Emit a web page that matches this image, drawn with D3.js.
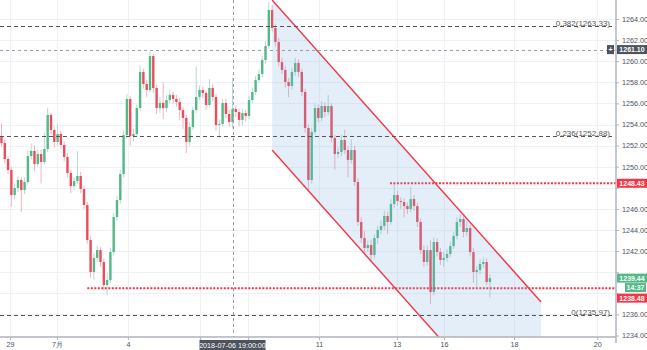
<!DOCTYPE html>
<html>
<head>
<meta charset="utf-8">
<script src="https://cdnjs.cloudflare.com/ajax/libs/d3/7.8.5/d3.min.js"></script>
<style>
    html, body { margin: 0; padding: 0; background: #fff; }
    svg { display: block; font-family: "Liberation Sans", Arial, sans-serif; }
</style>
</head>
<body>
<div id="chart"></div>
<script>
// Gold, 2h candles, 29 Jun - 17 Jul 2018
const opens = [
    1252.82, 1252.25, 1250.73, 1249.69, 1247.32, 1247.98, 1248.74, 1247.79, 1248.55, 1251.01,
    1251.49, 1250.26, 1251.20, 1250.45, 1251.68, 1254.90, 1253.48, 1252.34, 1253.10, 1252.06,
    1250.92, 1249.40, 1248.17, 1248.64, 1249.12, 1247.89, 1246.37, 1243.05, 1240.02, 1241.35,
    1242.10, 1240.97, 1238.79, 1239.26, 1241.91, 1245.23, 1246.84, 1249.31, 1253.00, 1256.42,
    1252.91, 1253.10, 1255.56, 1258.98, 1257.84, 1257.27, 1260.49, 1257.46, 1255.56, 1256.04,
    1255.56, 1256.32, 1256.80, 1256.42, 1256.13, 1255.37, 1254.62, 1252.34, 1253.76, 1255.37,
    1256.61, 1257.27, 1256.99, 1255.85, 1257.46, 1256.61, 1253.95, 1254.05, 1256.04, 1255.00,
    1254.24, 1255.47, 1255.18, 1254.43, 1255.09, 1254.81, 1256.32, 1257.08, 1258.22, 1258.79,
    1260.11, 1261.44, 1264.85, 1263.15, 1261.82, 1259.92, 1259.17, 1258.03, 1257.65, 1258.98,
    1259.83, 1258.98, 1257.08, 1253.67, 1248.74, 1253.29, 1255.56, 1254.62, 1255.75, 1255.18,
    1255.75, 1252.72, 1251.20, 1251.39, 1252.53, 1251.58, 1250.64, 1251.58, 1248.55, 1244.76,
    1243.24, 1242.29, 1242.58, 1241.63, 1243.24, 1244.00, 1244.38, 1245.33, 1244.76, 1246.46,
    1247.32, 1246.75, 1246.65, 1246.27, 1245.99, 1246.94, 1246.27, 1244.76, 1242.10, 1240.97,
    1242.10, 1238.12, 1242.86, 1241.91, 1241.16, 1241.35, 1241.73, 1242.48, 1243.43, 1244.76,
    1245.04, 1243.81, 1244.19, 1241.91, 1240.02, 1240.21, 1240.78, 1240.97, 1239.07
];
const highs = [
    1254.10, 1252.60, 1251.00, 1250.00, 1248.40, 1249.10, 1249.00, 1249.00, 1251.50, 1252.20,
    1252.00, 1251.60, 1251.60, 1253.20, 1255.60, 1255.10, 1253.80, 1254.10, 1253.40, 1252.40,
    1251.30, 1249.70, 1249.00, 1251.50, 1249.50, 1248.20, 1246.70, 1243.40, 1241.80, 1242.50,
    1242.40, 1241.30, 1239.90, 1242.30, 1245.60, 1247.20, 1249.70, 1253.40, 1256.90, 1256.70,
    1253.60, 1255.90, 1259.60, 1259.30, 1258.20, 1260.90, 1260.70, 1257.80, 1256.60, 1258.00,
    1256.80, 1257.30, 1257.10, 1256.80, 1256.50, 1255.70, 1254.90, 1254.20, 1255.70, 1259.50,
    1257.70, 1257.60, 1257.20, 1258.30, 1257.80, 1256.90, 1254.50, 1256.40, 1256.40, 1255.40,
    1258.40, 1255.80, 1255.50, 1255.50, 1255.40, 1256.70, 1257.50, 1258.60, 1259.20, 1260.50,
    1261.90, 1265.60, 1265.30, 1263.50, 1262.20, 1260.30, 1259.50, 1258.40, 1259.40, 1260.30,
    1260.20, 1259.30, 1257.40, 1254.00, 1253.70, 1256.00, 1255.90, 1256.20, 1256.10, 1256.80,
    1256.00, 1253.00, 1251.80, 1253.00, 1253.50, 1251.90, 1252.60, 1252.00, 1248.90, 1245.20,
    1243.90, 1243.00, 1243.10, 1243.60, 1244.40, 1244.90, 1245.80, 1245.70, 1246.90, 1248.43,
    1247.70, 1247.10, 1247.00, 1246.60, 1248.10, 1247.30, 1246.60, 1245.10, 1242.50, 1242.50,
    1243.00, 1243.30, 1243.20, 1242.30, 1241.90, 1242.20, 1242.90, 1243.80, 1245.20, 1245.50,
    1245.30, 1244.80, 1244.50, 1242.30, 1240.60, 1241.20, 1241.40, 1241.30, 1239.80
];
const lows = [
    1251.90, 1250.30, 1249.30, 1246.20, 1246.90, 1247.60, 1245.70, 1247.40, 1248.30, 1250.70,
    1249.60, 1250.00, 1248.40, 1250.20, 1251.40, 1253.00, 1251.80, 1252.00, 1251.70, 1250.50,
    1249.00, 1247.50, 1247.80, 1248.40, 1247.50, 1246.00, 1242.70, 1239.50, 1239.30, 1241.00,
    1240.50, 1238.30, 1237.80, 1239.00, 1241.60, 1244.80, 1246.50, 1249.00, 1252.70, 1252.00,
    1252.40, 1252.80, 1255.30, 1257.40, 1256.60, 1257.00, 1257.00, 1255.00, 1255.10, 1254.50,
    1255.20, 1256.00, 1255.90, 1255.70, 1254.40, 1253.60, 1251.30, 1252.00, 1253.50, 1255.10,
    1256.30, 1256.50, 1255.40, 1255.60, 1256.20, 1253.40, 1252.70, 1253.80, 1254.60, 1253.80,
    1253.60, 1254.70, 1253.80, 1253.90, 1254.30, 1254.50, 1256.00, 1256.80, 1257.90, 1258.50,
    1259.80, 1261.20, 1262.80, 1261.40, 1259.50, 1258.80, 1257.50, 1256.60, 1257.30, 1258.60,
    1258.50, 1256.70, 1253.20, 1247.60, 1248.40, 1253.00, 1254.20, 1254.30, 1254.70, 1254.90,
    1252.30, 1249.70, 1250.80, 1251.00, 1251.20, 1249.00, 1250.30, 1248.20, 1244.40, 1242.80,
    1241.80, 1241.90, 1241.00, 1241.30, 1242.70, 1243.60, 1244.00, 1243.60, 1244.50, 1246.10,
    1246.30, 1246.00, 1245.20, 1245.50, 1245.70, 1245.80, 1244.30, 1241.70, 1240.50, 1240.60,
    1237.00, 1237.80, 1241.50, 1240.70, 1240.50, 1241.00, 1241.40, 1242.20, 1243.10, 1244.30,
    1243.30, 1243.40, 1241.50, 1239.00, 1238.60, 1239.80, 1240.40, 1238.80, 1237.60
];
const closes = [
    1252.25, 1250.73, 1249.69, 1247.32, 1247.98, 1248.74, 1247.79, 1248.55, 1251.01, 1251.49,
    1250.26, 1251.20, 1250.45, 1251.68, 1254.90, 1253.48, 1252.34, 1253.10, 1252.06, 1250.92,
    1249.40, 1248.17, 1248.64, 1249.12, 1247.89, 1246.37, 1243.05, 1240.02, 1241.35, 1242.10,
    1240.97, 1238.79, 1239.26, 1241.91, 1245.23, 1246.84, 1249.31, 1253.00, 1256.42, 1252.91,
    1253.10, 1255.56, 1258.98, 1257.84, 1257.27, 1260.49, 1257.46, 1255.56, 1256.04, 1255.56,
    1256.32, 1256.80, 1256.42, 1256.13, 1255.37, 1254.62, 1252.34, 1253.76, 1255.37, 1256.61,
    1257.27, 1256.99, 1255.85, 1257.46, 1256.61, 1253.95, 1254.05, 1256.04, 1255.00, 1254.24,
    1255.47, 1255.18, 1254.43, 1255.09, 1254.81, 1256.32, 1257.08, 1258.22, 1258.79, 1260.11,
    1261.44, 1264.85, 1263.15, 1261.82, 1259.92, 1259.17, 1258.03, 1257.65, 1258.98, 1259.83,
    1258.98, 1257.08, 1253.67, 1248.74, 1253.29, 1255.56, 1254.62, 1255.75, 1255.18, 1255.75,
    1252.72, 1251.20, 1251.39, 1252.53, 1251.58, 1250.64, 1251.58, 1248.55, 1244.76, 1243.24,
    1242.29, 1242.58, 1241.63, 1243.24, 1244.00, 1244.38, 1245.33, 1244.76, 1246.46, 1247.32,
    1246.75, 1246.65, 1246.27, 1245.99, 1246.94, 1246.27, 1244.76, 1242.10, 1240.97, 1242.10,
    1238.12, 1242.86, 1241.91, 1241.16, 1241.35, 1241.73, 1242.48, 1243.43, 1244.76, 1245.04,
    1243.81, 1244.19, 1241.91, 1240.02, 1240.21, 1240.78, 1240.97, 1239.07, 1239.44
];

// day labels, placed at bar numbers
const dayLabels = ['29', '7月', '4', '6', '9', '11', '13', '16', '18', '20'];
const dayBars = [2.6, 16.8, 38.3, 60.2, 74.7, 96.2, 119.8, 134.1, 155.3, 180.5];

const priceTicks = [1234, 1236, 1238, 1240, 1242, 1244, 1246, 1248, 1250,
    1252, 1254, 1256, 1258, 1260, 1262, 1264];

// fibonacci levels
const fibRatios = ['0.382', '0.236', '0'];
const fibPrices = [1263.33, 1252.88, 1235.97];

// red horizontal rays: price and the bar they start from
const rayPrices = [1248.43, 1238.48];
const rayStartBars = [117.7, 26];

// parallel channel: upper edge from/to, then vertical offset of lower edge
const channelBars = [82, 163.5];
const channelUpper = [1265.80, 1237.18];
const channelDepth = 14.22;

const crossBar = 70;
const crossPrice = 1261.10;
const crossTime = '2018-07-06 19:00:00';
const lastPrice = 1239.44;
const countdown = '14:37';

const W = 647, H = 350;
const plotR = 616, plotB = 337;

const colors = {
    up: '#53b987', down: '#eb4d5c',
    upWick: '#b9d7d3', downWick: '#f3b3ba',
    grid: '#eef2f6', axis: '#b2b5be', text: '#4c525e',
    red: '#f23645', dark: '#4c525e'
};

const candles = closes.map((c, i) => ({ i, o: opens[i], h: highs[i], l: lows[i], c }));

const x = d3.scaleLinear().domain([-0.45, 186.2]).range([0, plotR]);
const y = d3.scaleLinear().domain([1233.86, 1265.80]).range([plotB, 0]);

const svg = d3.select('#chart').append('svg')
    .attr('width', W).attr('height', H);

svg.append('defs').append('clipPath').attr('id', 'plot')
    .append('rect').attr('width', plotR).attr('height', plotB);

// grid
const grid = svg.append('g');
grid.selectAll('.hg').data(priceTicks).enter().append('line')
    .attr('x1', 0).attr('x2', plotR)
    .attr('y1', d => Math.round(y(d)) + 0.5).attr('y2', d => Math.round(y(d)) + 0.5)
    .attr('stroke', colors.grid);
grid.selectAll('.vg').data(dayBars).enter().append('line')
    .attr('x1', d => Math.round(x(d)) + 0.5).attr('x2', d => Math.round(x(d)) + 0.5)
    .attr('y1', 0).attr('y2', plotB)
    .attr('stroke', colors.grid);

const plot = svg.append('g').attr('clip-path', 'url(#plot)');

// candles
const bars = plot.append('g').selectAll('g').data(candles).enter().append('g');
bars.append('line')
    .attr('x1', d => x(d.i)).attr('x2', d => x(d.i))
    .attr('y1', d => y(d.h)).attr('y2', d => y(d.l))
    .attr('stroke', d => d.c >= d.o ? colors.upWick : colors.downWick)
    .attr('stroke-width', 1);
bars.append('rect')
    .attr('x', d => x(d.i) - 1.2)
    .attr('width', 2.4)
    .attr('y', d => y(Math.max(d.o, d.c)))
    .attr('height', d => Math.max(1, Math.abs(y(d.o) - y(d.c))))
    .attr('fill', d => d.c >= d.o ? colors.up : colors.down);

// red rays
rayPrices.forEach((p, k) => {
    plot.append('line')
        .attr('x1', x(rayStartBars[k])).attr('x2', plotR)
        .attr('y1', y(p)).attr('y2', y(p))
        .attr('stroke', colors.red).attr('stroke-width', 2)
        .attr('stroke-dasharray', '2,1.5');
});

// channel
const upper = channelBars.map((b, k) => [x(b), y(channelUpper[k])]);
const lower = channelBars.map((b, k) => [x(b), y(channelUpper[k] - channelDepth)]);
plot.append('path')
    .attr('d', d3.line()([upper[0], upper[1], lower[1], lower[0]]) + 'Z')
    .attr('fill', 'rgba(120,170,220,0.2)');
[upper, lower].forEach(seg => {
    plot.append('path')
        .attr('d', d3.line()(seg))
        .attr('stroke', colors.red).attr('stroke-width', 1.4).attr('fill', 'none');
});

// fib levels
fibPrices.forEach((p, k) => {
    const yy = Math.round(y(p)) + 0.5;
    svg.append('line')
        .attr('x1', 0).attr('x2', 612)
        .attr('y1', yy).attr('y2', yy)
        .attr('stroke', '#555').attr('stroke-dasharray', '4,3');
    svg.append('text')
        .attr('x', 610).attr('y', yy - 1)
        .attr('text-anchor', 'end')
        .attr('font-size', 8).attr('fill', '#555')
        .text(`${fibRatios[k]}(${p.toFixed(2)})`);
});

// crosshair
svg.append('line')
    .attr('x1', Math.round(x(crossBar)) + 0.5).attr('x2', Math.round(x(crossBar)) + 0.5)
    .attr('y1', 0).attr('y2', plotB)
    .attr('stroke', '#9a9da5').attr('stroke-dasharray', '3,3');
svg.append('line')
    .attr('x1', 0).attr('x2', plotR)
    .attr('y1', Math.round(y(crossPrice)) + 0.5).attr('y2', Math.round(y(crossPrice)) + 0.5)
    .attr('stroke', '#9a9da5').attr('stroke-dasharray', '3,3');

// tags on the price scale, top to bottom (centre y in pixels)
const tagYs = [y(crossPrice), y(rayPrices[0]), y(lastPrice), y(lastPrice) + 9.5, y(lastPrice) + 20];
const underPriceTag = p => tagYs.some(t => Math.abs(y(p) - t) < 9);

// the time tag hides the day labels that fall under it
const cx = x(crossBar), tagHalf = 33;
const underTimeTag = b => Math.abs(x(b) - cx) < tagHalf + 4;

// axes
const yAxis = svg.append('g')
    .attr('transform', `translate(${plotR},0)`)
    .call(d3.axisRight(y).tickValues(priceTicks).tickSize(3).tickPadding(3)
        .tickFormat(d => underPriceTag(d) ? '' : d3.format('.2f')(d)));
const xAxis = svg.append('g')
    .attr('transform', `translate(0,${plotB})`)
    .call(d3.axisBottom(x).tickValues(dayBars).tickSize(3).tickPadding(2)
        .tickFormat((d, i) => underTimeTag(d) ? '' : dayLabels[i]));
[yAxis, xAxis].forEach(a => {
    a.select('.domain').attr('stroke', colors.axis).attr('stroke-width', 1.5);
    a.selectAll('.tick line').attr('stroke', colors.axis);
    a.selectAll('.tick text').attr('fill', colors.text)
        .attr('font-size', 7.2).attr('font-family', '"Liberation Sans", Arial, sans-serif');
});
xAxis.select('.domain').attr('d', `M0,0H${plotR}`);
yAxis.select('.domain').attr('d', `M0,0V${plotB + 6}`);

// price tags on the right scale
function tag(yc, text, fill, x0 = plotR + 1, w = 30) {
    svg.append('rect')
        .attr('x', x0).attr('y', yc - 4.5).attr('width', w).attr('height', 9)
        .attr('fill', fill);
    svg.append('text')
        .attr('x', x0 + w / 2).attr('y', yc).attr('dy', '0.35em')
        .attr('text-anchor', 'middle')
        .attr('font-size', 7).attr('font-weight', 'bold').attr('fill', '#fff')
        .text(text);
}
tag(tagYs[0], crossPrice.toFixed(2), colors.dark);
tag(tagYs[0], '+', colors.dark, plotR - 9, 7);
tag(tagYs[1], rayPrices[0].toFixed(2), colors.red);
tag(tagYs[2], lastPrice.toFixed(2), colors.up);
tag(tagYs[3], countdown, colors.up, plotR + 9, 21);
tag(tagYs[4], rayPrices[1].toFixed(2), colors.red);

// crosshair time tag
svg.append('rect')
    .attr('x', cx - tagHalf).attr('y', plotB + 3).attr('width', tagHalf * 2).attr('height', 10)
    .attr('fill', colors.dark);
svg.append('text')
    .attr('x', cx).attr('y', plotB + 8).attr('dy', '0.35em')
    .attr('text-anchor', 'middle')
    .attr('font-size', 7.2).attr('fill', '#fff')
    .text(crossTime);
</script>
</body>
</html>
